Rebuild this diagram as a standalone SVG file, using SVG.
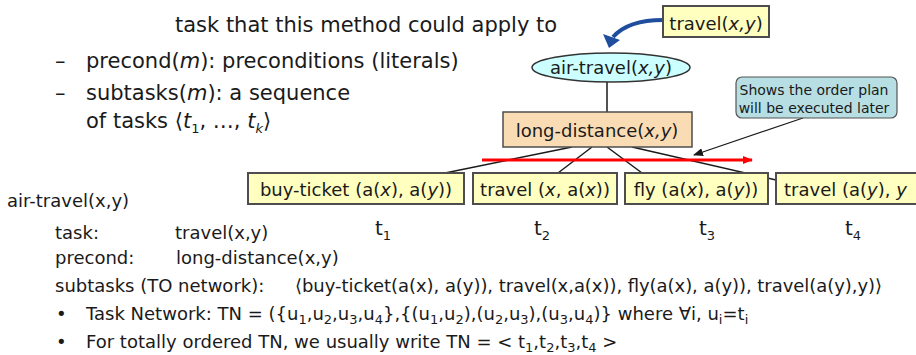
<svg xmlns="http://www.w3.org/2000/svg" width="916" height="355" viewBox="0 0 916 355">
<defs>
<style>
text{font-family:"DejaVu Sans","Verdana",sans-serif;fill:#1a1a1a}
.big{font-size:21px}
.med{font-size:18px}
.box{font-size:18px}
.lbl{font-size:20px}
.sub{font-size:13px}
.ybox{fill:#FFFFC0;stroke:#4d4d4d;stroke-width:2}
.conn{stroke:#1a1a1a;stroke-width:1.5;fill:none}
.it{font-style:italic}
</style>
<marker id="redHead" markerWidth="10" markerHeight="8" refX="9" refY="4" orient="auto" markerUnits="userSpaceOnUse">
<path d="M0,0 L10,4 L0,8 Z" fill="#ff0000"/>
</marker>
<marker id="blkHead" markerWidth="10" markerHeight="8" refX="9" refY="4" orient="auto" markerUnits="userSpaceOnUse">
<path d="M0,0 L10,4 L0,8 Z" fill="#1a1a1a"/>
</marker>
</defs>

<!-- text block top -->
<g id="method-desc">
<text class="big" x="175" y="32">task that this method could apply to</text>
<text class="big" x="55" y="68">–</text>
<text class="big" x="86" y="68">precond(<tspan class="it">m</tspan>): preconditions (literals)</text>
<text class="big" x="55" y="100">–</text>
<text class="big" x="86" y="100">subtasks(<tspan class="it">m</tspan>): a sequence</text>
<text class="big" x="86" y="128">of tasks ⟨<tspan class="it">t</tspan><tspan class="sub" dy="5">1</tspan><tspan dy="-5">, …, </tspan><tspan class="it">t</tspan><tspan class="sub it" dy="5">k</tspan><tspan dy="-5">⟩</tspan></text>
</g>

<!-- connectors -->
<g id="connectors">
<path d="M663,20 Q628,20 613,37" stroke="#1F4E9E" stroke-width="4" fill="none"/>
<path d="M603,34 L620,40 L609,48 Z" fill="#1F4E9E"/>
<line class="conn" x1="607" y1="82" x2="607" y2="112"/>
<line class="conn" x1="572" y1="147" x2="445" y2="173"/>
<line class="conn" x1="592" y1="147" x2="558" y2="173"/>
<line class="conn" x1="607" y1="147" x2="642" y2="173"/>
<line class="conn" x1="632" y1="147" x2="776" y2="180"/>
<line x1="482" y1="160" x2="752" y2="160" stroke="#ff0000" stroke-width="3" marker-end="url(#redHead)"/>
<line x1="803" y1="118" x2="694" y2="155" stroke="#1a1a1a" stroke-width="1.2" marker-end="url(#blkHead)"/>
</g>

<g id="travel-xy">
<rect class="ybox" x="663" y="6" width="106" height="31"/>
<text class="box" x="716" y="30" text-anchor="middle">travel(<tspan class="it">x,y</tspan>)</text>
</g>

<g id="air-travel">
<ellipse cx="611" cy="67.5" rx="79" ry="14.5" fill="#CCFFFF" stroke="#333" stroke-width="1.5"/>
<text class="box" x="611" y="74" text-anchor="middle">air-travel(<tspan class="it">x,y</tspan>)</text>
</g>

<g id="long-distance">
<rect x="503" y="112" width="189" height="35" fill="#FADCB4" stroke="#4d4d4d" stroke-width="1.5"/>
<text class="box" x="597" y="137" text-anchor="middle">long-distance(<tspan class="it">x,y</tspan>)</text>
</g>

<g id="callout">
<rect x="736" y="77" width="161" height="41" rx="6" fill="#B7DEE2" stroke="#555" stroke-width="1.2"/>
<text x="814" y="95" text-anchor="middle" style="font-size:14px">Shows the order plan</text>
<text x="814" y="113" text-anchor="middle" style="font-size:14px">will be executed later</text>
</g>

<g id="t1-buy-ticket">
<rect class="ybox" x="248" y="173" width="216" height="31"/>
<text class="box" x="356" y="196" text-anchor="middle">buy-ticket (a(<tspan class="it">x</tspan>), a(<tspan class="it">y</tspan>))</text>
<text class="lbl" x="375" y="235">t<tspan class="sub" dy="5">1</tspan></text>
</g>

<g id="t2-travel">
<rect class="ybox" x="473" y="173" width="144" height="31"/>
<text class="box" x="545" y="196" text-anchor="middle">travel (<tspan class="it">x</tspan>, a(<tspan class="it">x</tspan>))</text>
<text class="lbl" x="534" y="235">t<tspan class="sub" dy="5">2</tspan></text>
</g>

<g id="t3-fly">
<rect class="ybox" x="625" y="173" width="143" height="31"/>
<text class="box" x="696" y="196" text-anchor="middle">fly (a(<tspan class="it">x</tspan>), a(<tspan class="it">y</tspan>))</text>
<text class="lbl" x="699" y="235">t<tspan class="sub" dy="5">3</tspan></text>
</g>

<g id="t4-travel">
<rect class="ybox" x="776" y="173" width="170" height="31"/>
<text class="box" x="784" y="196">travel (a(<tspan class="it">y</tspan>), <tspan class="it">y</tspan></text>
<text class="lbl" x="845" y="235">t<tspan class="sub" dy="5">4</tspan></text>
</g>

<!-- bottom text -->
<g id="definition">
<text class="med" x="7" y="207">air-travel(x,y)</text>
<text class="med" x="55" y="239">task:</text>
<text class="med" x="175" y="239">travel(x,y)</text>
<text class="med" x="55" y="264">precond:</text>
<text class="med" x="176" y="264">long-distance(x,y)</text>
<text class="med" x="55" y="292">subtasks (TO network):</text>
<text class="med" x="295" y="292" textLength="587" lengthAdjust="spacing">⟨buy-ticket(a(x), a(y)), travel(x,a(x)), fly(a(x), a(y)), travel(a(y),y)⟩</text>
<text class="med" x="56" y="320">•</text>
<text class="med" x="86" y="320">Task Network: TN = ({u<tspan class="sub" dy="4">1</tspan><tspan dy="-4">,u</tspan><tspan class="sub" dy="4">2</tspan><tspan dy="-4">,u</tspan><tspan class="sub" dy="4">3</tspan><tspan dy="-4">,u</tspan><tspan class="sub" dy="4">4</tspan><tspan dy="-4">},{(u</tspan><tspan class="sub" dy="4">1</tspan><tspan dy="-4">,u</tspan><tspan class="sub" dy="4">2</tspan><tspan dy="-4">),(u</tspan><tspan class="sub" dy="4">2</tspan><tspan dy="-4">,u</tspan><tspan class="sub" dy="4">3</tspan><tspan dy="-4">),(u</tspan><tspan class="sub" dy="4">3</tspan><tspan dy="-4">,u</tspan><tspan class="sub" dy="4">4</tspan><tspan dy="-4">)} where ∀i, u</tspan><tspan class="sub" dy="4">i</tspan><tspan dy="-4">=t</tspan><tspan class="sub" dy="4">i</tspan></text>
<text class="med" x="56" y="348">•</text>
<text class="med" x="86" y="348">For totally ordered TN, we usually write TN = &lt; t<tspan class="sub" dy="4">1</tspan><tspan dy="-4">,t</tspan><tspan class="sub" dy="4">2</tspan><tspan dy="-4">,t</tspan><tspan class="sub" dy="4">3</tspan><tspan dy="-4">,t</tspan><tspan class="sub" dy="4">4</tspan><tspan dy="-4"> &gt;</tspan></text>
</g>
</svg>
